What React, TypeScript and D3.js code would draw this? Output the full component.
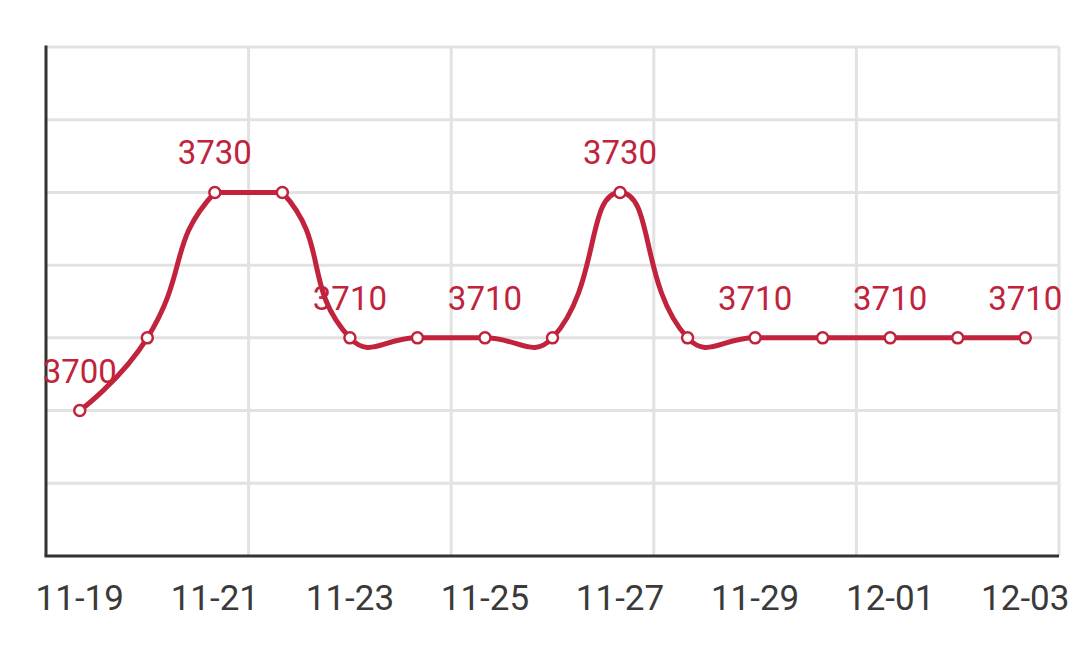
import React from 'react';
import * as d3 from 'd3';

const categories = ['11-19','11-20','11-21','11-22','11-23','11-24','11-25','11-26','11-27','11-28','11-29','11-30','12-01','12-02','12-03'];
const prices = [3700,3710,3730,3730,3710,3710,3710,3710,3730,3710,3710,3710,3710,3710,3710];
const yTicks = [3680,3690,3700,3710,3720,3730,3740,3750];
const labelEvery = 2;
const splitEvery = 3;

const W = 1079, H = 666;
const plot = { left: 46, right: 1059, top: 47, bottom: 556 };
const RED = '#c0233b';
const GRID = '#e2e2e2';
const AXIS = '#333333';
const TEXT = '#3a3a3a';
const FONT = 'Roboto, "Noto Sans", sans-serif';

type P = [number, number];

// ECharts-style smoothing with bounding-box constraint on control points
function smoothLine(points: P[], smooth: number): string {
  const xs = points.map(p => p[0]);
  const ys = points.map(p => p[1]);
  const minP: P = [d3.min(xs)!, d3.min(ys)!];
  const maxP: P = [d3.max(xs)!, d3.max(ys)!];
  const clamp = (c: P): P => [
    Math.max(minP[0], Math.min(maxP[0], c[0])),
    Math.max(minP[1], Math.min(maxP[1], c[1])),
  ];
  const dist = (a: P, b: P) => Math.hypot(a[0] - b[0], a[1] - b[1]);
  const path = d3.path();
  path.moveTo(points[0][0], points[0][1]);
  let cp0: P = [points[0][0], points[0][1]];
  for (let i = 1; i < points.length; i++) {
    const p = points[i];
    const prev = points[i - 1];
    const next = points[i + 1];
    let cp1: P;
    let ratio = 0.5;
    let v: P = [0, 0];
    if (!next) {
      cp1 = [p[0], p[1]];
    } else {
      v = [next[0] - prev[0], next[1] - prev[1]];
      const lp = dist(p, prev);
      const ln = dist(p, next);
      ratio = ln / (ln + lp);
      cp1 = [p[0] - v[0] * smooth * (1 - ratio), p[1] - v[1] * smooth * (1 - ratio)];
    }
    const c0 = clamp(cp0);
    const c1 = clamp(cp1);
    path.bezierCurveTo(c0[0], c0[1], c1[0], c1[1], p[0], p[1]);
    cp0 = [p[0] + v[0] * smooth * ratio, p[1] + v[1] * smooth * ratio];
  }
  return path.toString();
}

export default function App() {
  const x = d3.scaleBand<string>().domain(categories).range([plot.left, plot.right]).padding(0);
  const y = d3.scaleLinear().domain([yTicks[0], yTicks[yTicks.length - 1]]).range([plot.bottom, plot.top]);
  const cx = (c: string) => (x(c) as number) + x.bandwidth() / 2;

  const pts: P[] = categories.map((c, i) => [cx(c), y(prices[i])]);
  const d = smoothLine(pts, 0.5);

  const splitXs: number[] = [];
  for (let i = 0; i <= categories.length; i += splitEvery) {
    splitXs.push(i < categories.length ? (x(categories[i]) as number) : x.range()[1]);
  }

  return (
    <div style={{ position: 'fixed', left: 0, top: 0, width: W, height: H, background: '#fff' }}>
      <svg width={W} height={H} style={{ display: 'block' }}>
        {yTicks.slice(1).map(t => (
          <line key={'h' + t} x1={plot.left} x2={plot.right} y1={y(t)} y2={y(t)} stroke={GRID} strokeWidth={3} />
        ))}
        {splitXs.slice(1).map((sx, i) => (
          <line key={'v' + i} x1={sx} x2={sx} y1={plot.top} y2={plot.bottom} stroke={GRID} strokeWidth={3} />
        ))}
        <line x1={plot.left} x2={plot.left} y1={plot.top - 1.5} y2={plot.bottom} stroke={AXIS} strokeWidth={3} />
        <line x1={plot.left - 1.5} x2={plot.right} y1={plot.bottom} y2={plot.bottom} stroke={AXIS} strokeWidth={3} />
        {categories.map((c, i) => i % labelEvery === 0 ? (
          <text key={'xl' + c} x={cx(c)} y={610} textAnchor="middle" fontFamily={FONT} fontSize={35} fill={TEXT}>{c}</text>
        ) : null)}
        <path d={d} fill="none" stroke={RED} strokeWidth={5} strokeLinejoin="round" strokeLinecap="round" />
        {pts.map((p, i) => (
          <circle key={'m' + i} cx={p[0]} cy={p[1]} r={5.5} fill="#fff" stroke={RED} strokeWidth={2.5} />
        ))}
        {pts.map((p, i) => i % labelEvery === 0 ? (
          <text key={'vl' + i} x={p[0]} y={p[1] - 28} textAnchor="middle" fontFamily={FONT} fontSize={33} fill={RED}>{prices[i]}</text>
        ) : null)}
      </svg>
    </div>
  );
}
